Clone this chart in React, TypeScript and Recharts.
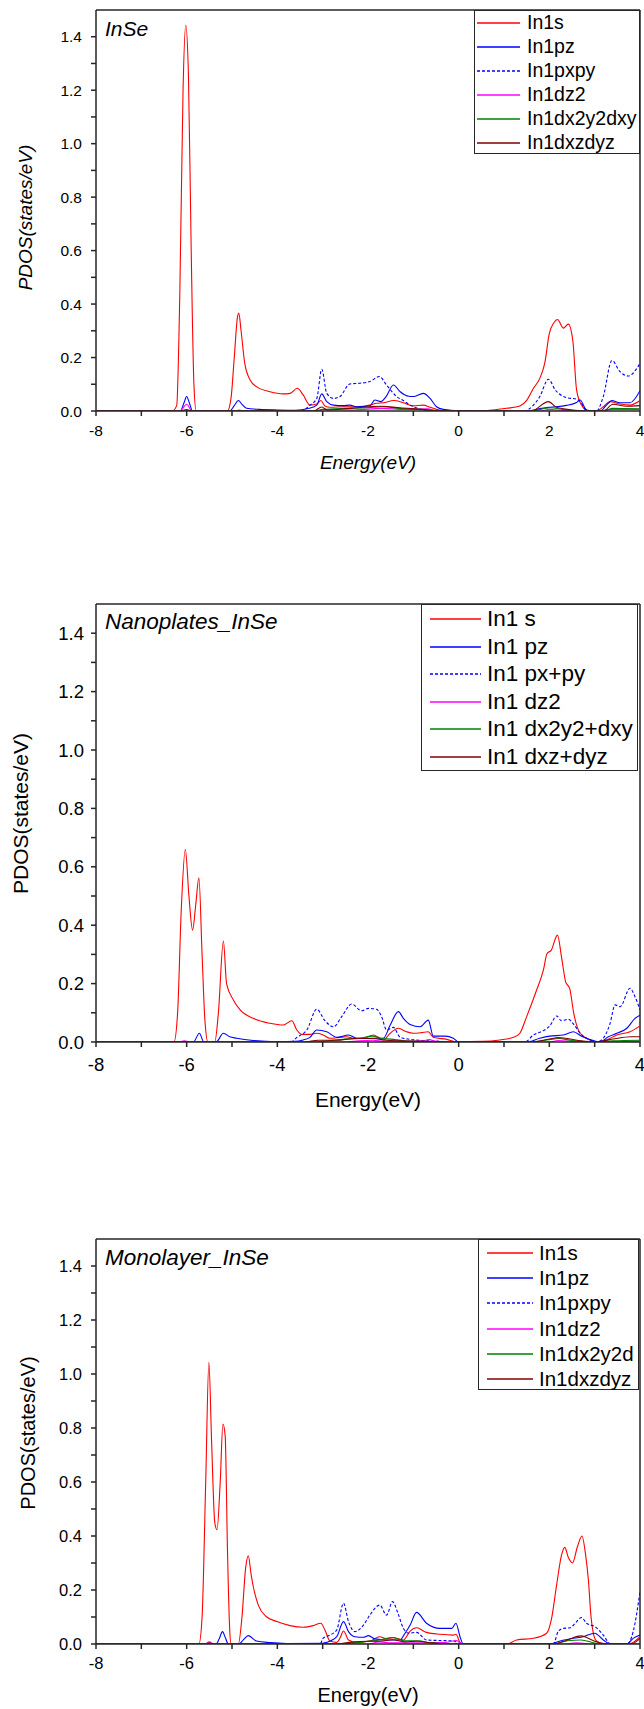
import React from 'react';
import { LineChart, Line, XAxis, YAxis, ReferenceLine } from 'recharts';

type Pt = [number, number];

// [energy (eV), PDOS (states/eV)] pairs

// bulk InSe
const bulkS: Pt[] = [
  [-8, 0], [-6.32, 0], [-6.22, 0.02], [-6.15, 0.45], [-6.08, 1.2], [-6.02, 1.443], [-5.96, 1.25],
  [-5.9, 0.6], [-5.84, 0.1], [-5.79, 0], [-5.1, 0], [-5.02, 0.05], [-4.95, 0.2], [-4.88, 0.35],
  [-4.85, 0.366], [-4.8, 0.3], [-4.72, 0.18], [-4.6, 0.116], [-4.46, 0.091], [-4.16, 0.072],
  [-3.87, 0.064], [-3.72, 0.066], [-3.56, 0.085], [-3.43, 0.06], [-3.28, 0.022], [-3.13, 0.026],
  [-3.04, 0.039], [-2.95, 0.019], [-2.84, 0.014], [-2.54, 0.016], [-2.25, 0.016], [-1.96, 0.022],
  [-1.81, 0.029], [-1.66, 0.031], [-1.43, 0.039], [-1.22, 0.031], [-1.0, 0.019], [-0.78, 0.022],
  [-0.63, 0.014], [-0.49, 0.006], [-0.34, 0.001], [0.4, 0], [0.76, 0.004], [1.06, 0.01],
  [1.35, 0.019], [1.5, 0.04], [1.65, 0.085], [1.79, 0.122], [1.9, 0.18], [2.0, 0.29], [2.1, 0.33],
  [2.18, 0.342], [2.31, 0.31], [2.42, 0.325], [2.52, 0.26], [2.6, 0.08], [2.71, 0.022],
  [2.82, 0.004], [3.04, 0], [3.19, 0.016], [3.34, 0.035], [3.56, 0.026], [3.78, 0.022], [4.0, 0.039],
];
const bulkPz: Pt[] = [
  [-8, 0], [-6.14, 0], [-6.06, 0.03], [-6.0, 0.054], [-5.94, 0.03], [-5.87, 0], [-5.05, 0],
  [-4.95, 0.02], [-4.86, 0.039], [-4.78, 0.025], [-4.68, 0.01], [-4.4, 0.006], [-4.0, 0.004],
  [-3.6, 0.003], [-3.3, 0.01], [-3.13, 0.022], [-3.02, 0.064], [-2.91, 0.035], [-2.76, 0.022],
  [-2.55, 0.02], [-2.4, 0.022], [-2.25, 0.016], [-1.96, 0.019], [-1.85, 0.041], [-1.72, 0.035],
  [-1.6, 0.054], [-1.44, 0.097], [-1.29, 0.072], [-1.1, 0.055], [-1.0, 0.054], [-0.78, 0.066],
  [-0.63, 0.047], [-0.49, 0.016], [-0.34, 0.006], [0, 0.001], [1.5, 0], [1.79, 0.009],
  [2.01, 0.014], [2.38, 0.021], [2.6, 0.032], [2.68, 0.041], [2.79, 0.01], [2.86, 0], [3.12, 0],
  [3.26, 0.022], [3.38, 0.039], [3.56, 0.031], [3.78, 0.031], [4.0, 0.076],
];
const bulkPxpy: Pt[] = [
  [-8, 0], [-3.48, 0], [-3.28, 0.022], [-3.13, 0.047], [-3.02, 0.156], [-2.91, 0.066],
  [-2.76, 0.047], [-2.62, 0.054], [-2.4, 0.101], [-2.18, 0.104], [-1.96, 0.11], [-1.75, 0.129],
  [-1.59, 0.097], [-1.37, 0.054], [-1.22, 0.039], [-1.07, 0.022], [-0.9, 0.01], [-0.56, 0.001],
  [1.43, 0], [1.65, 0.022], [1.79, 0.054], [1.98, 0.119], [2.13, 0.079], [2.38, 0.05],
  [2.6, 0.044], [2.71, 0.029], [2.82, 0], [3.04, 0], [3.19, 0.054], [3.38, 0.189], [3.56, 0.147],
  [3.74, 0.131], [4.0, 0.178],
];
const bulkDz2: Pt[] = [
  [-8, 0], [-6.15, 0], [-6.0, 0.025], [-5.88, 0], [-4.9, 0], [-4.85, 0.004], [-4.7, 0], [-3.1, 0],
  [-3.0, 0.005], [-2.3, 0.004], [-1.7, 0.01], [-1.2, 0.006], [-0.7, 0.008], [-0.4, 0], [1.8, 0],
  [2.0, 0.006], [2.3, 0.002], [3.0, 0], [3.4, 0.006], [4, 0.006],
];
const bulkDx2y2: Pt[] = [
  [-8, 0], [-3.2, 0], [-3.0, 0.006], [-2.5, 0.01], [-2.0, 0.012], [-1.7, 0.016], [-1.3, 0.01],
  [-0.8, 0.005], [-0.4, 0], [1.6, 0], [2.0, 0.012], [2.4, 0.004], [2.9, 0], [3.2, 0], [3.4, 0.01],
  [4, 0.008],
];
const bulkDxz: Pt[] = [
  [-8, 0], [-6.15, 0], [-6.0, 0.005], [-5.9, 0], [-3.2, 0], [-3.02, 0.015], [-2.9, 0.004],
  [-2.4, 0.01], [-1.7, 0.018], [-1.3, 0.012], [-0.8, 0.006], [-0.4, 0], [1.6, 0], [1.98, 0.035],
  [2.16, 0.014], [2.5, 0.004], [2.9, 0], [3.2, 0], [3.4, 0.025], [3.7, 0.018], [4, 0.02],
];

// nanoplates
const nanoS: Pt[] = [
  [-8, 0], [-6.28, 0], [-6.2, 0.1], [-6.12, 0.45], [-6.03, 0.66], [-5.95, 0.5], [-5.87, 0.383],
  [-5.8, 0.47], [-5.73, 0.562], [-5.66, 0.3], [-5.6, 0.08], [-5.53, 0], [-5.38, 0], [-5.3, 0.1],
  [-5.19, 0.346], [-5.12, 0.2], [-4.97, 0.144], [-4.82, 0.11], [-4.53, 0.081], [-4.16, 0.064],
  [-3.87, 0.058], [-3.68, 0.073], [-3.57, 0.041], [-3.46, 0.026], [-3.28, 0.026], [-3.13, 0.03],
  [-2.99, 0.024], [-2.84, 0.013], [-2.62, 0.016], [-2.47, 0.018], [-2.32, 0.013], [-2.1, 0.013],
  [-1.88, 0.024], [-1.77, 0.016], [-1.66, 0.007], [-1.51, 0.03], [-1.33, 0.047], [-1.15, 0.035],
  [-1.0, 0.03], [-0.82, 0.032], [-0.67, 0.035], [-0.56, 0.016], [-0.26, 0.009], [-0.04, 0.001],
  [0.54, 0.002], [0.91, 0.007], [1.21, 0.016], [1.35, 0.03], [1.5, 0.087], [1.72, 0.178],
  [1.87, 0.247], [1.95, 0.303], [2.04, 0.314], [2.18, 0.366], [2.27, 0.29], [2.36, 0.206],
  [2.45, 0.183], [2.54, 0.097], [2.68, 0.03], [2.9, 0.007], [3.04, 0], [3.26, 0.007],
  [3.49, 0.024], [3.78, 0.035], [4.0, 0.055],
];
const nanoPz: Pt[] = [
  [-8, 0], [-5.85, 0], [-5.72, 0.03], [-5.62, 0], [-5.35, 0], [-5.19, 0.03], [-5.05, 0.018],
  [-4.9, 0.013], [-4.53, 0.005], [-4.0, 0.001], [-3.6, 0.002], [-3.43, 0.007], [-3.28, 0.016],
  [-3.13, 0.041], [-2.91, 0.035], [-2.69, 0.016], [-2.43, 0.024], [-2.25, 0.013], [-1.96, 0.013],
  [-1.66, 0.013], [-1.51, 0.058], [-1.33, 0.104], [-1.22, 0.081], [-1.07, 0.06], [-0.85, 0.052],
  [-0.67, 0.075], [-0.56, 0.02], [-0.3, 0.02], [-0.12, 0.013], [0, 0], [1.5, 0], [1.79, 0.013],
  [2.01, 0.02], [2.31, 0.024], [2.53, 0.035], [2.71, 0.02], [2.97, 0.005], [3.12, 0],
  [3.3, 0.018], [3.49, 0.03], [3.71, 0.047], [3.89, 0.081], [4.0, 0.092],
];
const nanoPxpy: Pt[] = [
  [-8, 0], [-3.7, 0], [-3.57, 0.016], [-3.35, 0.041], [-3.13, 0.112], [-2.95, 0.073],
  [-2.76, 0.052], [-2.58, 0.087], [-2.36, 0.13], [-2.14, 0.107], [-1.99, 0.115], [-1.81, 0.112],
  [-1.7, 0.087], [-1.59, 0.041], [-1.44, 0.05], [-1.29, 0.016], [-1.07, 0.009], [-0.8, 0.005],
  [-0.5, 0.003], [-0.2, 0], [1.46, 0], [1.65, 0.024], [1.87, 0.039], [2.01, 0.055], [2.16, 0.089],
  [2.27, 0.073], [2.42, 0.078], [2.53, 0.062], [2.68, 0.03], [2.9, 0.007], [3.04, 0],
  [3.19, 0.013], [3.34, 0.064], [3.45, 0.127], [3.56, 0.121], [3.78, 0.184], [3.89, 0.155],
  [4.0, 0.11],
];
const nanoDz2: Pt[] = [
  [-8, 0], [-6.2, 0], [-6.05, 0.004], [-5.9, 0], [-2.5, 0], [-2.2, 0.004], [-1.9, 0.006],
  [-1.6, 0.002], [-0.8, 0.004], [-0.65, 0.008], [-0.5, 0.002], [-0.2, 0], [2.0, 0], [2.2, 0.005],
  [2.5, 0.002], [3.0, 0], [4.0, 0.003],
];
const nanoDx2y2: Pt[] = [
  [-8, 0], [-3.2, 0], [-2.9, 0.004], [-2.5, 0.01], [-2.2, 0.012], [-1.9, 0.02], [-1.7, 0.012],
  [-1.5, 0.01], [-1.2, 0.004], [-0.8, 0.002], [-0.3, 0], [1.5, 0], [2.0, 0.008], [2.2, 0.012],
  [2.5, 0.005], [3.0, 0], [3.4, 0.004], [4.0, 0.006],
];
const nanoDxz: Pt[] = [
  [-8, 0], [-3.4, 0], [-3.1, 0.006], [-2.7, 0.006], [-2.3, 0.012], [-1.9, 0.012], [-1.6, 0.006],
  [-1.3, 0.004], [-0.8, 0.002], [-0.3, 0], [1.6, 0], [2.0, 0.01], [2.2, 0.015], [2.4, 0.012],
  [2.7, 0.004], [3.0, 0], [3.4, 0.01], [3.8, 0.018], [4.0, 0.018],
];

// monolayer
const monoS: Pt[] = [
  [-8, 0], [-5.73, 0], [-5.66, 0.1], [-5.58, 0.6], [-5.51, 1.043], [-5.45, 0.75], [-5.38, 0.45],
  [-5.33, 0.423], [-5.26, 0.6], [-5.2, 0.815], [-5.15, 0.77], [-5.1, 0.35], [-5.05, 0.05],
  [-5.02, 0], [-4.86, 0], [-4.78, 0.1], [-4.7, 0.28], [-4.64, 0.327], [-4.58, 0.26],
  [-4.53, 0.212], [-4.42, 0.144], [-4.24, 0.101], [-4.01, 0.083], [-3.72, 0.068], [-3.43, 0.062],
  [-3.21, 0.068], [-3.04, 0.077], [-2.95, 0.052], [-2.84, 0.011], [-2.69, 0.006], [-2.62, 0.021],
  [-2.54, 0.048], [-2.43, 0.015], [-2.25, 0.006], [-1.96, 0.011], [-1.74, 0.027], [-1.59, 0.019],
  [-1.44, 0.023], [-1.22, 0.015], [-1.07, 0.048], [-0.93, 0.06], [-0.71, 0.043], [-0.41, 0.036],
  [-0.12, 0.033], [-0.06, 0.036], [0.03, 0.006], [0.1, 0], [1.06, 0], [1.28, 0.015],
  [1.65, 0.021], [1.94, 0.04], [2.05, 0.095], [2.16, 0.218], [2.27, 0.33], [2.34, 0.358],
  [2.42, 0.32], [2.51, 0.3], [2.62, 0.36], [2.72, 0.4], [2.8, 0.33], [2.86, 0.24], [2.92, 0.1],
  [2.97, 0.04], [3.04, 0.011], [3.2, 0], [3.71, 0], [3.85, 0.006], [4.0, 0.027],
];
const monoPz: Pt[] = [
  [-8, 0], [-5.35, 0], [-5.28, 0.02], [-5.21, 0.046], [-5.14, 0.02], [-5.08, 0], [-4.85, 0],
  [-4.75, 0.015], [-4.64, 0.031], [-4.46, 0.011], [-4.16, 0.005], [-3.8, 0.002], [-3.0, 0.003],
  [-2.91, 0.006], [-2.69, 0.027], [-2.54, 0.083], [-2.43, 0.046], [-2.29, 0.027], [-2.1, 0.025],
  [-1.99, 0.031], [-1.85, 0.019], [-1.59, 0.015], [-1.29, 0.015], [-1.2, 0.035], [-1.07, 0.07],
  [-0.93, 0.117], [-0.71, 0.077], [-0.41, 0.058], [-0.15, 0.058], [-0.06, 0.077], [0.03, 0.027],
  [0.1, 0], [2.01, 0], [2.24, 0.011], [2.53, 0.021], [2.75, 0.027], [3.0, 0.04], [3.19, 0.015],
  [3.34, 0], [3.71, 0], [3.85, 0.021], [4.0, 0.033],
];
const monoPxpy: Pt[] = [
  [-8, 0], [-3.05, 0], [-3.0, 0.02], [-2.84, 0.033], [-2.69, 0.052], [-2.54, 0.151],
  [-2.43, 0.083], [-2.29, 0.046], [-2.1, 0.07], [-1.96, 0.107], [-1.74, 0.144], [-1.59, 0.107],
  [-1.46, 0.157], [-1.34, 0.114], [-1.22, 0.058], [-1.1, 0.04], [-0.93, 0.043], [-0.71, 0.015],
  [-0.12, 0.011], [0.07, 0], [2.09, 0], [2.2, 0.048], [2.31, 0.058], [2.46, 0.06], [2.57, 0.077],
  [2.71, 0.098], [2.82, 0.077], [3.01, 0.064], [3.19, 0.033], [3.34, 0.002], [3.71, 0],
  [3.85, 0.046], [4.0, 0.194],
];
const monoDz2: Pt[] = [
  [-8, 0], [-5.6, 0], [-5.5, 0.008], [-5.4, 0], [-2.0, 0], [-1.75, 0.008], [-1.5, 0.004],
  [-1.0, 0.004], [-0.3, 0.006], [-0.05, 0.013], [0.1, 0], [2.3, 0], [2.6, 0.004], [3.0, 0],
  [4.0, 0],
];
const monoDx2y2: Pt[] = [
  [-8, 0], [-2.7, 0], [-2.3, 0.004], [-2.0, 0.01], [-1.75, 0.015], [-1.45, 0.024], [-1.2, 0.012],
  [-0.9, 0.012], [-0.6, 0.004], [-0.2, 0], [2.1, 0], [2.4, 0.012], [2.7, 0.015], [3.0, 0.004],
  [3.3, 0], [4.0, 0],
];
const monoDxz: Pt[] = [
  [-8, 0], [-5.6, 0], [-5.5, 0.004], [-5.4, 0], [-2.7, 0], [-2.4, 0.006], [-2.0, 0.01],
  [-1.75, 0.01], [-1.45, 0.016], [-1.2, 0.008], [-0.9, 0.01], [-0.6, 0.004], [-0.2, 0], [2.1, 0],
  [2.4, 0.015], [2.7, 0.03], [3.0, 0.01], [3.3, 0], [3.8, 0], [4.0, 0.02],
];

const bulkNames = ['In1s', 'In1pz', 'In1pxpy', 'In1dz2', 'In1dx2y2dxy', 'In1dxzdyz'];
const nanoNames = ['In1 s', 'In1 pz', 'In1 px+py', 'In1 dz2', 'In1 dx2y2+dxy', 'In1 dxz+dyz'];
const monoNames = ['In1s', 'In1pz', 'In1pxpy', 'In1dz2', 'In1dx2y2d', 'In1dxzdyz'];

const energyTicks = [-8, -7, -6, -5, -4, -3, -2, -1, 0, 1, 2, 3, 4];
const pdosTicks = [0, 0.1, 0.2, 0.3, 0.4, 0.5, 0.6, 0.7, 0.8, 0.9, 1.0, 1.1, 1.2, 1.3, 1.4];

const orbitalColors = ['#ff0000', '#0000ff', '#0000ff', '#ff00ff', '#008000', '#800000'];
const orbitalDashes = ['', '', '3 2', '', '', ''];

const FONT = '"Liberation Sans", Arial, Helvetica, sans-serif';
const AXIS = '#262626';

const energyLabel = (v: number) => (v % 2 === 0 ? String(v) : '');
const pdosLabel = (v: number) => (Math.round(v * 10) % 2 === 0 ? v.toFixed(1) : '');

interface LegendBox {
  left: number; top: number; right: number; bottom: number;
  row0: number; rowGap: number; sampleFrom: number; sampleTo: number; textX: number; fontSize: number;
}

interface PanelProps {
  top: number; height: number; plotTop: number; plotBottom: number;
  tag: string; tagFont: number; tagY: number;
  names: string[]; series: Pt[][];
  tickFont: number; xTickMargin: number; yTickMargin: number;
  titleFont: number; italic: boolean; xTitleY: number; yTitleX: number; yTitleY: number;
  legend: LegendBox;
}

function PdosPanel(p: PanelProps) {
  const tickStyle = { fill: '#000', fontSize: p.tickFont, fontFamily: FONT };
  const fs = p.italic ? 'italic' : 'normal';
  const lg = p.legend;
  const titleW = 260;
  return (
    <>
      <div style={{ position: 'absolute', left: 0, top: p.top }}>
        <LineChart width={644} height={p.height} margin={{ top: p.plotTop - p.top, right: 4, bottom: 0, left: 0 }}>
          <XAxis xAxisId="e" type="number" dataKey="e" domain={[-8, 4]} allowDataOverflow ticks={energyTicks}
            interval={0} tickFormatter={energyLabel} height={p.top + p.height - p.plotBottom} tickSize={5}
            tickMargin={p.xTickMargin} stroke={AXIS} strokeWidth={1.5} tick={tickStyle} />
          <YAxis yAxisId="v" type="number" domain={[0, 1.5]} allowDataOverflow ticks={pdosTicks} interval={0}
            tickFormatter={pdosLabel} width={96} tickSize={5} tickMargin={p.yTickMargin} stroke={AXIS}
            strokeWidth={1.5} tick={tickStyle} />
          {/* top and right frame of the plot box */}
          <ReferenceLine xAxisId="e" yAxisId="v" y={1.5} stroke={AXIS} strokeWidth={1.5} />
          <ReferenceLine xAxisId="e" yAxisId="v" x={4} stroke={AXIS} strokeWidth={1.5} />
          {p.series.map((pts, i) => (
            <Line key={p.names[i]} xAxisId="e" yAxisId="v" data={pts.map(([e, v]) => ({ e, v }))}
              dataKey="v" name={p.names[i]} type="monotone" stroke={orbitalColors[i]} strokeWidth={1.1}
              strokeDasharray={orbitalDashes[i] || undefined} dot={false} activeDot={false}
              isAnimationActive={false} />
          ))}
        </LineChart>
      </div>

      <div style={{ position: 'absolute', left: 105, top: p.tagY - 0.49 * p.tagFont, fontSize: p.tagFont,
        fontStyle: 'italic', lineHeight: 1, whiteSpace: 'nowrap' }}>{p.tag}</div>

      <div style={{ position: 'absolute', left: 368 - titleW / 2, width: titleW, top: p.xTitleY - 0.49 * p.titleFont,
        fontSize: p.titleFont, fontStyle: fs, lineHeight: 1, textAlign: 'center', whiteSpace: 'nowrap' }}>
        Energy(eV)
      </div>
      <div style={{ position: 'absolute', left: p.yTitleX - titleW / 2, width: titleW, top: p.yTitleY - 0.5 * p.titleFont,
        fontSize: p.titleFont, fontStyle: fs, lineHeight: 1, textAlign: 'center', whiteSpace: 'nowrap',
        transform: 'rotate(-90deg)' }}>
        PDOS(states/eV)
      </div>

      <div style={{ position: 'absolute', left: lg.left, top: lg.top, width: lg.right - lg.left,
        height: lg.bottom - lg.top, border: `1px solid ${AXIS}`, boxSizing: 'border-box', background: '#fff' }} />
      {p.names.map((n, i) => {
        const cy = lg.row0 + i * lg.rowGap;
        return (
          <React.Fragment key={n}>
            <svg style={{ position: 'absolute', left: lg.sampleFrom, top: cy - 2 }} width={lg.sampleTo - lg.sampleFrom} height={4}>
              <line x1={0} x2={lg.sampleTo - lg.sampleFrom} y1={2} y2={2} stroke={orbitalColors[i]}
                strokeWidth={1.3} strokeDasharray={orbitalDashes[i] || undefined} />
            </svg>
            <div style={{ position: 'absolute', left: lg.textX, top: cy - 0.49 * lg.fontSize, fontSize: lg.fontSize,
              lineHeight: 1, whiteSpace: 'nowrap' }}>{n}</div>
          </React.Fragment>
        );
      })}
    </>
  );
}

export default function App() {
  return (
    <div style={{ position: 'absolute', left: 0, top: 0, width: 644, height: 1709, background: '#fff',
      fontFamily: FONT, color: '#000', overflow: 'hidden' }}>
      <PdosPanel top={0} height={480} plotTop={10} plotBottom={411}
        tag="InSe" tagFont={21} tagY={28}
        names={bulkNames} series={[bulkS, bulkPz, bulkPxpy, bulkDz2, bulkDx2y2, bulkDxz]}
        tickFont={15.5} xTickMargin={9} yTickMargin={9}
        titleFont={19} italic xTitleY={462} yTitleX={25} yTitleY={217}
        legend={{ left: 474, top: 10, right: 640, bottom: 154, row0: 23, rowGap: 24, sampleFrom: 477,
          sampleTo: 520, textX: 527, fontSize: 19.5 }} />
      <PdosPanel top={580} height={540} plotTop={604} plotBottom={1042}
        tag="Nanoplates_InSe" tagFont={22.5} tagY={622}
        names={nanoNames} series={[nanoS, nanoPz, nanoPxpy, nanoDz2, nanoDx2y2, nanoDxz]}
        tickFont={18.5} xTickMargin={11} yTickMargin={7}
        titleFont={21} italic={false} xTitleY={1099} yTitleX={20} yTitleY={813}
        legend={{ left: 421, top: 604, right: 638, bottom: 771, row0: 619, rowGap: 27.6, sampleFrom: 430,
          sampleTo: 481, textX: 487, fontSize: 22.5 }} />
      <PdosPanel top={1200} height={509} plotTop={1239} plotBottom={1644}
        tag="Monolayer_InSe" tagFont={22.5} tagY={1258}
        names={monoNames} series={[monoS, monoPz, monoPxpy, monoDz2, monoDx2y2, monoDxz]}
        tickFont={16.5} xTickMargin={8} yTickMargin={9}
        titleFont={20} italic={false} xTitleY={1695} yTitleX={28} yTitleY={1433}
        legend={{ left: 478, top: 1239, right: 639, bottom: 1390, row0: 1253, rowGap: 25.2, sampleFrom: 487,
          sampleTo: 533, textX: 539, fontSize: 20.5 }} />
    </div>
  );
}
